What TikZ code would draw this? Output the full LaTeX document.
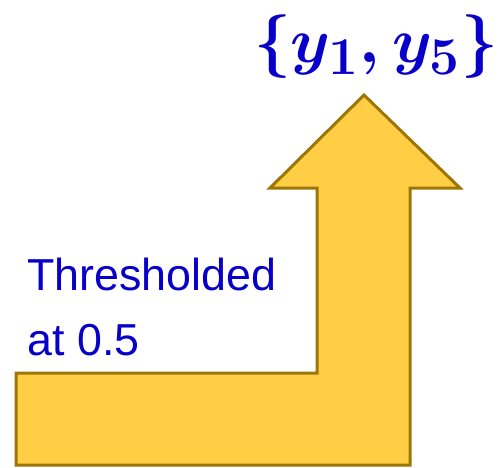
\documentclass[tikz,border=0pt]{standalone}
\usepackage{fontspec}
\setmainfont{Liberation Sans}
\usepackage{amsmath}
\usepackage{xcolor}
\usepackage{tikz}
\definecolor{arrowfill}{RGB}{255,206,68}
\definecolor{arrowedge}{RGB}{158,118,6}
\definecolor{labelblue}{RGB}{8,0,200}

\begin{document}
\begin{tikzpicture}[
  x=0.5pt, y=-0.5pt,
  bigarrow/.style={draw=arrowedge, fill=arrowfill, line width=1.5pt, line join=miter},
  setlabel/.style={text=labelblue, inner sep=0pt, scale=1.28, font=\fontsize{24.88pt}{30pt}\selectfont\boldmath},
  notelabel/.style={text=labelblue, inner sep=0pt, align=left, font=\fontsize{22.4pt}{32.5pt}\selectfont}
]
\useasboundingbox (0,0) rectangle (499,467);
% bent arrow, pointing up
\draw[bigarrow] (16,373) -- (317,373) -- (317,188) -- (270,188) -- (364,95)
  -- (460,188) -- (410,188) -- (410,465) -- (16,465) -- cycle;
\node[setlabel] (outset) at (376,47) {$\{y_1, y_5\}$};
\node[notelabel, anchor=base west] (thresh) at (27,355) {Thresholded\\at 0.5};
\end{tikzpicture}
\end{document}
